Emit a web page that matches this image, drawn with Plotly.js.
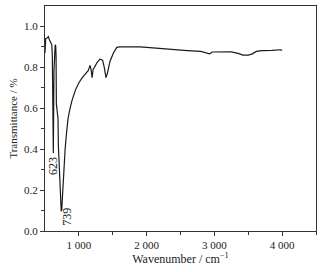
<!DOCTYPE html>
<html>
<head>
<meta charset="utf-8">
<script src="https://cdn.plot.ly/plotly-3.0.1.min.js"></script>
<style>
  html, body { margin: 0; padding: 0; background: #fff; }
  #plot { width: 324px; height: 272px; }
</style>
</head>
<body>
<div id="plot"></div>
<script>
// wavenumber (cm-1) and transmittance
const wavenumber = [
  500, 503, 510, 525, 540, 550, 565, 585, 600, 608, 613, 617, 620, 623,
  627, 632, 640, 650, 658, 663, 668, 675, 685, 692, 697, 705, 715, 725,
  733, 739, 746, 752, 758, 770, 785, 797, 815, 840, 870, 900, 950, 1000,
  1050, 1100, 1140, 1164, 1180, 1195, 1210, 1230, 1270, 1310, 1350, 1375,
  1400, 1420, 1460, 1510, 1560, 1600, 1700, 1800, 1900, 2000, 2200, 2400,
  2600, 2800, 2880, 2930, 2970, 3100, 3250, 3350, 3420, 3500, 3560, 3620,
  3700, 3850, 3980, 4000
];
const transmittance = [
  0.87, 0.93, 0.94, 0.942, 0.945, 0.95, 0.935, 0.92, 0.91, 0.86, 0.72, 0.58, 0.50, 0.38,
  0.55, 0.78, 0.90, 0.91, 0.905, 0.86, 0.62, 0.59, 0.58, 0.55, 0.42, 0.35, 0.28, 0.20,
  0.13, 0.10, 0.10, 0.14, 0.17, 0.24, 0.33, 0.40, 0.47, 0.55, 0.60, 0.64, 0.69, 0.725,
  0.75, 0.77, 0.785, 0.81, 0.79, 0.75, 0.79, 0.80, 0.825, 0.84, 0.835, 0.80,
  0.75, 0.77, 0.83, 0.87, 0.898, 0.90, 0.90, 0.903, 0.90, 0.898, 0.892, 0.886,
  0.882, 0.878, 0.872, 0.866, 0.875, 0.877, 0.876, 0.868, 0.86, 0.86, 0.866, 0.878,
  0.882, 0.883, 0.886, 0.882
];
// peak labels and where their text sits
const peak_labels = ["623", "739"];
const label_wn = [611, 830];
const label_t = [0.315, 0.072];

const serif = "Liberation Serif, Times New Roman, serif";

const data = [
  {
    x: wavenumber,
    y: transmittance,
    mode: "lines",
    line: { color: "#1a1a1a", width: 1.2 },
    hoverinfo: "skip"
  }
];

const annotations = peak_labels.map((lbl, i) => ({
  x: label_wn[i],
  y: label_t[i],
  xref: "x",
  yref: "y",
  text: lbl,
  textangle: -90,
  showarrow: false,
  font: { family: serif, size: 12, color: "#222" }
}));

const layout = {
  width: 324,
  height: 272,
  margin: { l: 45, r: 8, t: 6, b: 41 },
  paper_bgcolor: "#fff",
  plot_bgcolor: "#fff",
  showlegend: false,
  separators: ". ",
  font: { family: serif, size: 11, color: "#222" },
  xaxis: {
    range: [500, 4500],
    tickvals: [1000, 2000, 3000, 4000],
    separatethousands: true,
    tickformat: ",d",
    ticks: "outside",
    ticklen: 4,
    tickcolor: "#333",
    minor: { tickvals: [1500, 2500, 3500, 4500], ticks: "outside", ticklen: 3, tickcolor: "#333" },
    showline: true,
    linecolor: "#333",
    linewidth: 1,
    mirror: true,
    showgrid: false,
    zeroline: false,
    title: { text: "Wavenumber / cm<sup>−1</sup>", standoff: 2, font: { family: serif, size: 12, color: "#222" } }
  },
  yaxis: {
    range: [0, 1.1],
    tickvals: [0, 0.2, 0.4, 0.6, 0.8, 1.0],
    tickformat: ".1f",
    ticks: "outside",
    ticklen: 4,
    tickcolor: "#333",
    minor: { tickvals: [0.1, 0.3, 0.5, 0.7, 0.9], ticks: "outside", ticklen: 3, tickcolor: "#333" },
    showline: true,
    linecolor: "#333",
    linewidth: 1,
    mirror: true,
    showgrid: false,
    zeroline: false,
    title: { text: "Transmittance / %", standoff: 4, font: { family: serif, size: 11, color: "#222" } }
  },
  annotations: annotations
};

Plotly.newPlot("plot", data, layout, { staticPlot: true, displayModeBar: false });
</script>
</body>
</html>
